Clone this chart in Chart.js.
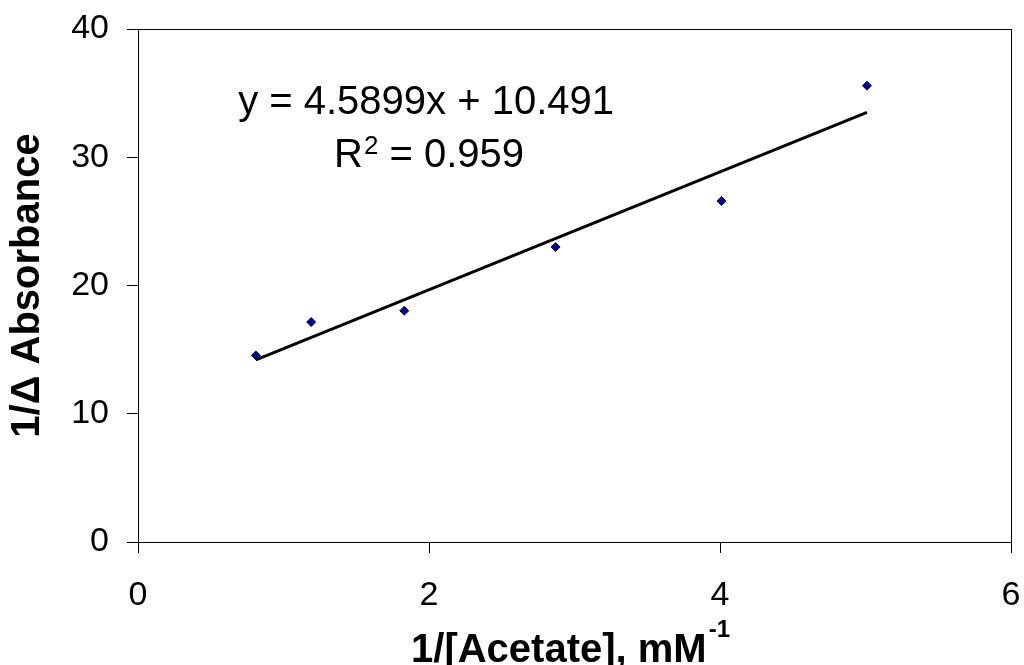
<!DOCTYPE html>
<html>
<head>
<meta charset="utf-8">
<title>1/Δ Absorbance vs 1/[Acetate]</title>
<script src="https://cdn.jsdelivr.net/npm/chart.js@4.4.1/dist/chart.umd.min.js"></script>
<style>
  html, body { margin: 0; padding: 0; background: #fff; }
  #wrap { position: relative; width: 1024px; height: 665px; }
</style>
</head>
<body>
<div id="wrap"><canvas id="chart"></canvas></div>
<script>
// Values
const acetateInv = [0.81, 1.19, 1.83, 2.87, 4.01, 5.01];
const absorbanceInv = [14.55, 17.15, 18.03, 23.0, 26.59, 35.58];
// Linear trendline end points (spans the data range)
const trendX = [0.81, 5.01];
const trendY = [14.2, 33.5];
const xTicks = [0, 2, 4, 6];
const yTicks = [0, 10, 20, 30, 40];
const equationText = 'y = 4.5899x + 10.491';
const r2Text = ' = 0.959';

const FONT = "'Liberation Sans', Arial, sans-serif";

// Frame, trendline label and x-axis title (needs a superscript)
const overlay = {
  id: 'overlay',
  afterDraw(chart) {
    const { ctx, chartArea: a, scales: { x, y } } = chart;
    ctx.save();
    ctx.strokeStyle = '#000';
    ctx.lineWidth = 1;
    ctx.strokeRect(a.left + 0.5, a.top + 0.5, a.right - a.left, a.bottom - a.top);

    ctx.fillStyle = '#000';
    ctx.textAlign = 'left';
    ctx.textBaseline = 'alphabetic';

    // trendline label, two centred lines
    const cx = x.getPixelForValue(1.98);
    ctx.font = `40px ${FONT}`;
    const wEq = ctx.measureText(equationText).width;
    ctx.fillText(equationText, cx - wEq / 2, y.getPixelForValue(33.4));

    const wR = ctx.measureText('R').width;
    const wRest = ctx.measureText(r2Text).width;
    ctx.font = `26px ${FONT}`;
    const w2 = ctx.measureText('2').width;
    const ry = y.getPixelForValue(29.25);
    let rx = cx + 3 - (wR + 1 + w2 + wRest) / 2;
    ctx.font = `40px ${FONT}`;
    ctx.fillText('R', rx, ry);
    rx += wR + 1;
    ctx.font = `26px ${FONT}`;
    ctx.fillText('2', rx, ry - 13);
    rx += w2;
    ctx.font = `40px ${FONT}`;
    ctx.fillText(r2Text, rx, ry);

    // x-axis title
    const main = '1/[Acetate], mM';
    const sup = '-1';
    ctx.font = `bold 40px ${FONT}`;
    const wMain = ctx.measureText(main).width;
    ctx.font = `bold 24px ${FONT}`;
    const wSup = ctx.measureText(sup).width;
    let tx = (a.left + a.right) / 2 - 4 - (wMain + wSup + 2) / 2;
    ctx.font = `bold 40px ${FONT}`;
    ctx.fillText(main, tx, 662);
    tx += wMain + 2;
    ctx.font = `bold 24px ${FONT}`;
    ctx.fillText(sup, tx, 637);
    ctx.restore();
  }
};

new Chart(document.getElementById('chart'), {
  type: 'scatter',
  data: {
    datasets: [
      {
        label: 'Data',
        data: acetateInv.map((v, i) => ({ x: v, y: absorbanceInv[i] })),
        pointStyle: 'rectRot',
        pointRadius: 4.5,
        backgroundColor: '#000080',
        borderColor: '#000080',
        borderWidth: 1,
        order: 1,
      },
      {
        label: 'Linear trend',
        data: trendX.map((v, i) => ({ x: v, y: trendY[i] })),
        showLine: true,
        pointRadius: 0,
        borderColor: '#000',
        borderWidth: 3,
        order: 0,
      },
    ],
  },
  options: {
    responsive: true,
    maintainAspectRatio: false,
    animation: false,
    layout: { padding: { left: 0, right: 13, top: 29, bottom: 0 } },
    plugins: { legend: { display: false }, tooltip: { enabled: false } },
    scales: {
      x: {
        type: 'linear',
        min: xTicks[0],
        max: xTicks[xTicks.length - 1],
        afterBuildTicks: s => { s.ticks = xTicks.map(v => ({ value: v })); },
        afterFit: s => { s.height = 123; s.paddingLeft = 0; s.paddingRight = 0; },
        grid: { drawOnChartArea: false, drawTicks: true, tickLength: 11, color: '#000' },
        border: { display: true, color: '#000', width: 1 },
        ticks: { color: '#000', padding: 22, maxRotation: 0, font: { family: FONT, size: 34 } },
        title: { display: false },
      },
      y: {
        type: 'linear',
        min: yTicks[0],
        max: yTicks[yTicks.length - 1],
        afterBuildTicks: s => { s.ticks = yTicks.map(v => ({ value: v })); },
        afterFit: s => { s.width = 138; s.paddingTop = 0; s.paddingBottom = 0; },
        grid: { drawOnChartArea: false, drawTicks: true, tickLength: 11, color: '#000' },
        border: { display: true, color: '#000', width: 1 },
        ticks: { color: '#000', padding: 18, font: { family: FONT, size: 34 } },
        title: {
          display: true,
          text: '1/Δ Absorbance',
          color: '#000',
          padding: { top: 4, bottom: 4 },
          font: { family: FONT, size: 40, weight: 'bold' },
        },
      },
    },
  },
  plugins: [overlay],
});
</script>
</body>
</html>
